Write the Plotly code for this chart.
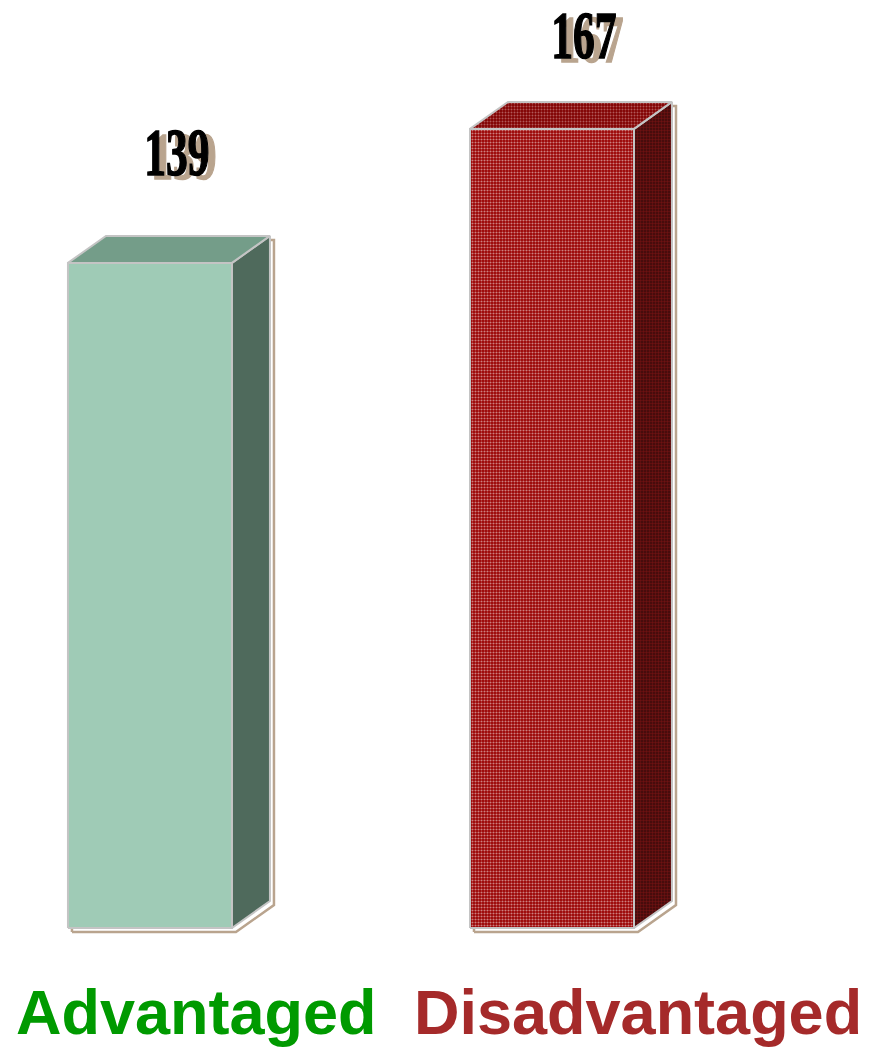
import plotly.graph_objects as go

categories = ["Advantaged", "Disadvantaged"]
values = [139, 167]
label_colors = ["#009a00", "#a52a2a"]

# face styles: (background colour, pattern colour or None, pattern solidity)
front_styles = [("#9fcbb6", None, 0), ("#990000", "#ffffff", 0.38)]
top_styles = [("#749d89", None, 0), ("#800000", "#e0b0b0", 0.35)]
side_styles = [("#4f6a5c", None, 0), ("#3c0a0a", "#a01818", 0.5)]
edge_color = "#c4c4c4"
shadow_color = "#b9a48e"

W, H = 870, 1049
x_range = [-0.373, 1.791]
y_range = [-25.29, 193.94]
px_per_x = W / (x_range[1] - x_range[0])
px_per_y = H / (y_range[1] - y_range[0])

bar_w = 164 / px_per_x
depth_x = 38 / px_per_x
depth_y = 27 / px_per_y
sh_x = 4 / px_per_x
sh_y = 4 / px_per_y

fig = go.Figure()

def poly(xs, ys, style, line_color, lw):
    bg, fg, sol = style
    kw = {}
    if fg is not None:
        kw["fillpattern"] = dict(shape=".", bgcolor=bg, fgcolor=fg, size=3, solidity=sol)
    fig.add_trace(go.Scatter(
        x=xs + [xs[0]], y=ys + [ys[0]], mode="lines", fill="toself",
        fillcolor=bg, line=dict(color=line_color, width=lw),
        hoverinfo="skip", showlegend=False, **kw))

for i, v in enumerate(values):
    x0 = i - bar_w / 2
    x1 = i + bar_w / 2
    sx = [x0 + sh_x, x1 + sh_x, x1 + depth_x + sh_x, x1 + depth_x + sh_x, x0 + depth_x + sh_x, x0 + sh_x]
    sy = [0 - sh_y, 0 - sh_y, depth_y - sh_y, v + depth_y - sh_y, v + depth_y - sh_y, v - sh_y]
    poly(sx, sy, ("white", None, 0), shadow_color, 2.5)
    poly([x1, x1 + depth_x, x1 + depth_x, x1], [0, depth_y, v + depth_y, v], side_styles[i], edge_color, 2)
    poly([x0, x1, x1 + depth_x, x0 + depth_x], [v, v, v + depth_y, v + depth_y], top_styles[i], edge_color, 2)
    poly([x0, x1, x1, x0], [0, 0, v, v], front_styles[i], edge_color, 2)

label_yshift = [84, 67]
label_xshift = [8, 13]
annotations = []
for i, v in enumerate(values):
    for dx, dy, col in [(7, -4, shadow_color), (0, 0, "black")]:
        annotations.append(dict(
            x=i + depth_x / 2, y=v + depth_y, xref="x", yref="y",
            text=str(v), showarrow=False, xanchor="center", yanchor="middle",
            xshift=label_xshift[i] + dx, yshift=label_yshift[i] + dy,
            font=dict(family="Liberation Serif", size=68, color=col, weight="bold")))

label_x_px = [196, 638]
for i, c in enumerate(categories):
    annotations.append(dict(
        x=label_x_px[i] / W, y=1 - 1012 / H, xref="paper", yref="paper",
        text=c, showarrow=False, xanchor="center", yanchor="middle",
        font=dict(family="Liberation Sans", size=63, color=label_colors[i], weight="bold")))

fig.update_layout(
    width=W, height=H, margin=dict(l=0, r=0, t=0, b=0),
    paper_bgcolor="white", plot_bgcolor="white",
    xaxis=dict(range=x_range, visible=False, fixedrange=True),
    yaxis=dict(range=y_range, visible=False, fixedrange=True),
    annotations=annotations, showlegend=False,
)

post = """
document.querySelectorAll('text.annotation-text').forEach(function(t){
  if (/^\\d+$/.test(t.textContent.trim())) {
    var f = t.style.fill || window.getComputedStyle(t).fill;
    t.style.stroke = f;
    t.style.strokeWidth = '1.6px';
    t.style.transformBox = 'fill-box';
    t.style.transformOrigin = 'center';
    t.style.transform = 'scaleX(0.64)';
  }
});
"""
fig.write_html("out.html", config={"staticPlot": True, "displayModeBar": False}, post_script=post)
